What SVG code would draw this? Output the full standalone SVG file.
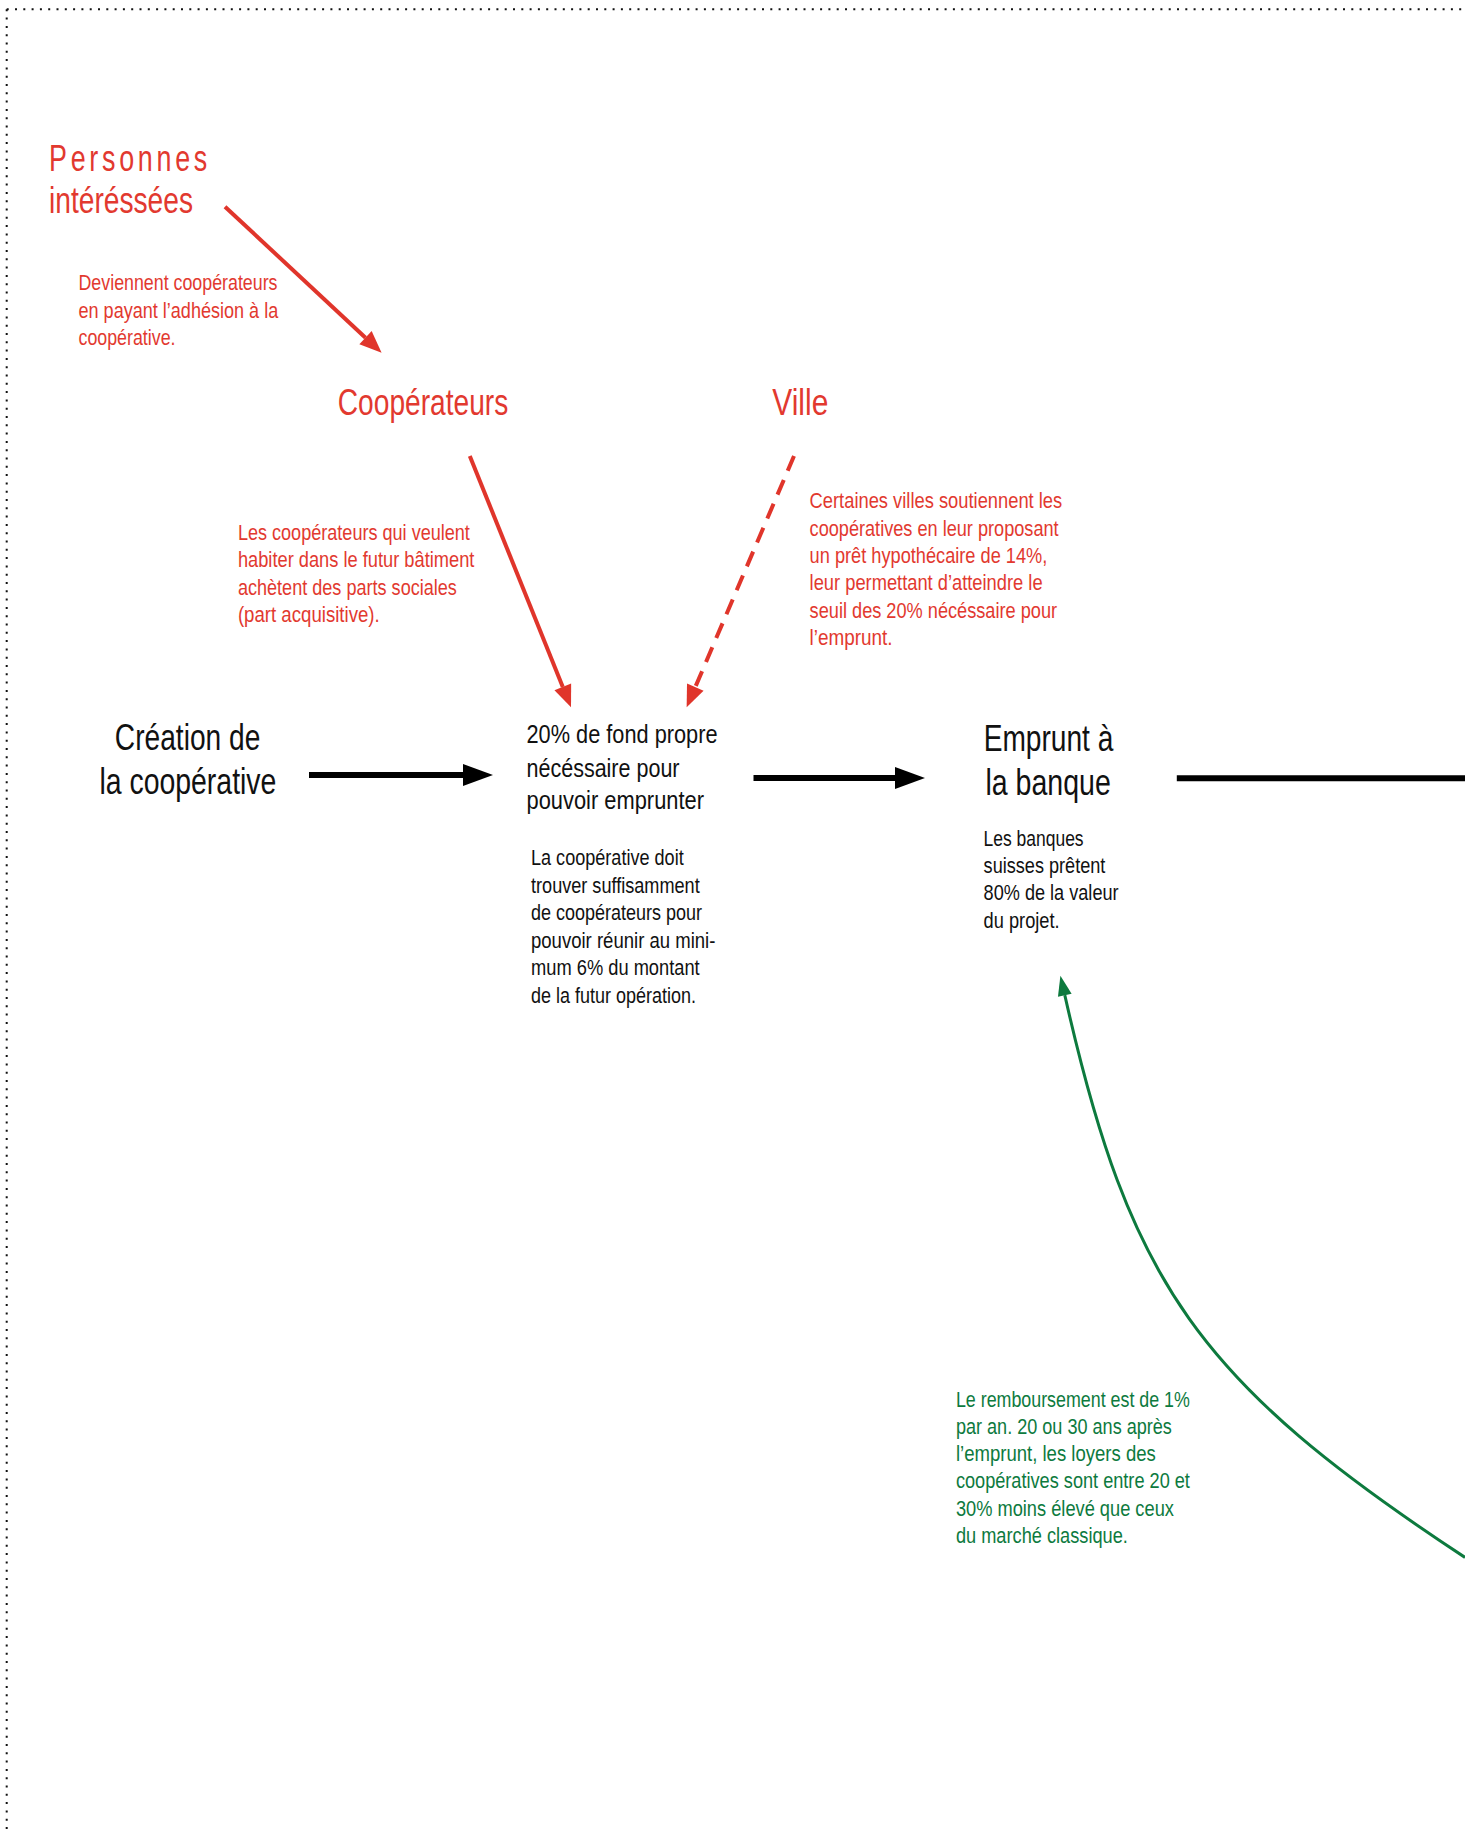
<svg xmlns="http://www.w3.org/2000/svg" width="1465" height="1829" viewBox="0 0 1465 1829">
<style>
text{font-family:"Liberation Sans Narrow","Arial Narrow","Liberation Sans",Arial,sans-serif;}
.red{fill:#e2392f;}
.blk{fill:#111;}
.grn{fill:#0d7a3e;}
.t36{font-size:36px;}
.t26{font-size:26px;}
.t22{font-size:22px;}
.mid{text-anchor:middle;}
.border{stroke:#111;stroke-width:2;stroke-dasharray:2 6.3;fill:none;}
.cr{stroke:#e0352b;stroke-width:4;fill:none;}
.cb{stroke:#000;stroke-width:6;fill:none;}
.cg{stroke:#0d7a3e;stroke-width:3;fill:none;}
</style>
<defs>
<marker id="ar" markerUnits="userSpaceOnUse" markerWidth="22" markerHeight="18" refX="0" refY="9" orient="auto" overflow="visible"><path d="M0,0 L22,9 L0,18 z" fill="#e0352b"/></marker>
<marker id="ab" markerUnits="userSpaceOnUse" markerWidth="30" markerHeight="22" refX="0" refY="11" orient="auto" overflow="visible"><path d="M0,0 L30,11 L0,22 z" fill="#000"/></marker>
<marker id="ag" markerUnits="userSpaceOnUse" markerWidth="20" markerHeight="14" refX="0" refY="7" orient="auto" overflow="visible"><path d="M0,0 L20,7 L0,14 z" fill="#0d7a3e"/></marker>
</defs>
<rect width="1465" height="1829" fill="#fff"/>
<g id="border">
<line class="border" x1="6.7" y1="9.3" x2="1465" y2="9.3"/>
<line class="border" x1="6.7" y1="9.3" x2="6.7" y2="1829"/>
</g>
<g id="connectors">
<line class="cr" x1="225" y1="206.7" x2="365.5" y2="337.7" marker-end="url(#ar)"/>
<line class="cr" x1="469.8" y1="456" x2="562.8" y2="686.9" marker-end="url(#ar)"/>
<line class="cr" x1="794" y1="456" x2="695.3" y2="687.1" stroke-dasharray="16 10" marker-end="url(#ar)"/>
<line class="cb" x1="309" y1="775" x2="463" y2="775" marker-end="url(#ab)"/>
<line class="cb" x1="753.5" y1="778" x2="895" y2="778" marker-end="url(#ab)"/>
<line class="cb" x1="1176.8" y1="778.3" x2="1465" y2="778.3"/>
<path class="cg" d="M1465,1557.4 C1197.5,1381.7 1129.7,1283.1 1064.8,995.2" marker-end="url(#ag)"/>
</g>
<g id="node-personnes">
<text class="red t36" x="49" y="170.7" letter-spacing="5" textLength="162" lengthAdjust="spacingAndGlyphs">Personnes</text>
<text class="red t36" x="49" y="213.3" textLength="144" lengthAdjust="spacingAndGlyphs">intéréssées</text>
</g>
<g id="label-adhesion">
<text class="red t22" x="78.5" y="290" textLength="199" lengthAdjust="spacingAndGlyphs">Deviennent coopérateurs</text>
<text class="red t22" x="78.5" y="317.5" textLength="199.7" lengthAdjust="spacingAndGlyphs">en payant l’adhésion à la</text>
<text class="red t22" x="78.5" y="345" textLength="97" lengthAdjust="spacingAndGlyphs">coopérative.</text>
</g>
<g id="node-cooperateurs">
<text class="red t36" x="337.8" y="415" textLength="170.5" lengthAdjust="spacingAndGlyphs">Coopérateurs</text>
</g>
<g id="node-ville">
<text class="red t36" x="772.3" y="415" textLength="56" lengthAdjust="spacingAndGlyphs">Ville</text>
</g>
<g id="label-parts">
<text class="red t22" x="237.9" y="540" textLength="232" lengthAdjust="spacingAndGlyphs">Les coopérateurs qui veulent</text>
<text class="red t22" x="237.9" y="567.3" textLength="236.5" lengthAdjust="spacingAndGlyphs">habiter dans le futur bâtiment</text>
<text class="red t22" x="237.9" y="594.6" textLength="219" lengthAdjust="spacingAndGlyphs">achètent des parts sociales</text>
<text class="red t22" x="237.9" y="622" textLength="141.8" lengthAdjust="spacingAndGlyphs">(part acquisitive).</text>
</g>
<g id="label-ville">
<text class="red t22" x="809.6" y="508" textLength="252.6" lengthAdjust="spacingAndGlyphs">Certaines villes soutiennent les</text>
<text class="red t22" x="809.6" y="535.5" textLength="249" lengthAdjust="spacingAndGlyphs">coopératives en leur proposant</text>
<text class="red t22" x="809.6" y="563" textLength="237.7" lengthAdjust="spacingAndGlyphs">un prêt hypothécaire de 14%,</text>
<text class="red t22" x="809.6" y="590.3" textLength="233" lengthAdjust="spacingAndGlyphs">leur permettant d’atteindre le</text>
<text class="red t22" x="809.6" y="617.6" textLength="247.5" lengthAdjust="spacingAndGlyphs">seuil des 20% nécéssaire pour</text>
<text class="red t22" x="809.6" y="645" textLength="83" lengthAdjust="spacingAndGlyphs">l’emprunt.</text>
</g>
<g id="node-creation">
<text class="blk t36 mid" x="187.6" y="750" textLength="145.5" lengthAdjust="spacingAndGlyphs">Création de</text>
<text class="blk t36 mid" x="187.9" y="794" textLength="177" lengthAdjust="spacingAndGlyphs">la coopérative</text>
</g>
<g id="node-fonds">
<text class="blk t26" x="526.5" y="743.3" textLength="191" lengthAdjust="spacingAndGlyphs">20% de fond propre</text>
<text class="blk t26" x="526.5" y="776.5" textLength="153" lengthAdjust="spacingAndGlyphs">nécéssaire pour</text>
<text class="blk t26" x="526.5" y="809" textLength="177.5" lengthAdjust="spacingAndGlyphs">pouvoir emprunter</text>
<text class="blk t22" x="531" y="865" textLength="152.7" lengthAdjust="spacingAndGlyphs">La coopérative doit</text>
<text class="blk t22" x="531" y="892.5" textLength="168.7" lengthAdjust="spacingAndGlyphs">trouver suffisamment</text>
<text class="blk t22" x="531" y="920" textLength="171" lengthAdjust="spacingAndGlyphs">de coopérateurs pour</text>
<text class="blk t22" x="531" y="947.5" textLength="184.4" lengthAdjust="spacingAndGlyphs">pouvoir réunir au mini-</text>
<text class="blk t22" x="531" y="975" textLength="168.7" lengthAdjust="spacingAndGlyphs">mum 6% du montant</text>
<text class="blk t22" x="531" y="1002.5" textLength="165" lengthAdjust="spacingAndGlyphs">de la futur opération.</text>
</g>
<g id="node-emprunt">
<text class="blk t36 mid" x="1048.5" y="750.7" textLength="129.7" lengthAdjust="spacingAndGlyphs">Emprunt à</text>
<text class="blk t36 mid" x="1048.1" y="795" textLength="125.4" lengthAdjust="spacingAndGlyphs">la banque</text>
<text class="blk t22" x="983.6" y="845.7" textLength="100" lengthAdjust="spacingAndGlyphs">Les banques</text>
<text class="blk t22" x="983.6" y="873" textLength="121.8" lengthAdjust="spacingAndGlyphs">suisses prêtent</text>
<text class="blk t22" x="983.6" y="900.3" textLength="135" lengthAdjust="spacingAndGlyphs">80% de la valeur</text>
<text class="blk t22" x="983.6" y="927.7" textLength="76" lengthAdjust="spacingAndGlyphs">du projet.</text>
</g>
<g id="label-remboursement">
<text class="grn t22" x="955.9" y="1406.5" textLength="234" lengthAdjust="spacingAndGlyphs">Le remboursement est de 1%</text>
<text class="grn t22" x="955.9" y="1433.7" textLength="216" lengthAdjust="spacingAndGlyphs">par an. 20 ou 30 ans après</text>
<text class="grn t22" x="955.9" y="1461" textLength="200" lengthAdjust="spacingAndGlyphs">l’emprunt, les loyers des</text>
<text class="grn t22" x="955.9" y="1488.3" textLength="234" lengthAdjust="spacingAndGlyphs">coopératives sont entre 20 et</text>
<text class="grn t22" x="955.9" y="1515.6" textLength="218" lengthAdjust="spacingAndGlyphs">30% moins élevé que ceux</text>
<text class="grn t22" x="955.9" y="1543" textLength="172" lengthAdjust="spacingAndGlyphs">du marché classique.</text>
</g>
</svg>
